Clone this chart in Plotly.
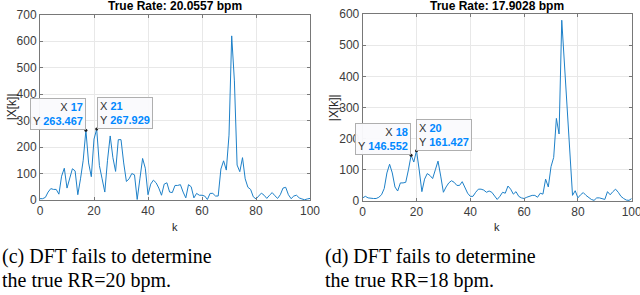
import plotly.graph_objects as go

k = list(range(101))

mag_c = [5, 5, 10, 30, 43, 40, 40, 22, 90, 120,
         45, 80, 118, 110, 20, 80, 150, 263.467, 140, 88,
         230, 267.929, 130, 80, 30, 150, 242, 160, 108, 228,
         228, 140, 70, 80, 100, 95, 2, 80, 157, 120,
         20, 60, 75, 65, 45, 18, 60, 65, 30, 28,
         55, 55, 58, 30, 8, 58, 50, 8, 25, 18,
         18, 15, 2, 25, 25, 15, 15, 117, 148, 113,
         245, 620, 450, 132, 107, 160, 80, 48, 40, 12,
         4, 15, 26, 18, 6, 18, 28, 16, 6, 20,
         45, 48, 20, 5, 15, 18, 8, 4, 1, 4, 6]

mag_d = [10, 15, 10, 8, 8, 8, 12, 20, 40, 90,
         118, 90, 45, 32, 58, 58, 60, 100, 146.552, 125,
         161.427, 100, 30, 70, 88, 82, 72, 100, 128, 80,
         28, 45, 58, 65, 60, 50, 50, 62, 45, 25,
         15, 15, 28, 38, 38, 35, 28, 32, 28, 15,
         5, 15, 28, 25, 48, 38, 22, 30, 15, 10,
         8, 12, 15, 18, 18, 12, 25, 22, 70, 45,
         110, 140, 265, 215, 580, 430, 300, 154, 18, 33,
         10, 20, 27, 18, 10, 5, 2, 10, 10, 8,
         5, 30, 20, 30, 38, 28, 15, 8, 3, 2, 8]

titles = ["True Rate: 20.0557 bpm", "True Rate: 17.9028 bpm"]
tips_c = [(17, 263.467, "right"), (21, 267.929, "left")]
tips_d = [(18, 146.552, "right"), (20, 161.427, "left")]
yticks_c = [0, 100, 200, 300, 400, 500, 600, 700]
yticks_d = [0, 100, 200, 300, 400, 500, 600]
xticks = [0, 20, 40, 60, 80, 100]
captions_c = ["(c) DFT fails to determine", "the true RR=20 bpm."]
captions_d = ["(d) DFT fails to determine", "the true RR=18 bpm."]

W, H = 640, 295
LINE = "rgb(30,128,200)"
AX = "rgb(38,38,38)"
FONT = "Liberation Sans"

fig = go.Figure()
fig.add_trace(go.Scatter(x=k, y=mag_c, mode="lines", line=dict(color=LINE, width=1),
                         xaxis="x", yaxis="y", showlegend=False, hoverinfo="skip"))
fig.add_trace(go.Scatter(x=k, y=mag_d, mode="lines", line=dict(color=LINE, width=1),
                         xaxis="x2", yaxis="y2", showlegend=False, hoverinfo="skip"))

for tips, xa, ya in [(tips_c, "x", "y"), (tips_d, "x2", "y2")]:
    fig.add_trace(go.Scatter(x=[t[0] for t in tips], y=[t[1] for t in tips], mode="markers",
                             marker=dict(color="rgb(30,30,30)", size=3),
                             xaxis=xa, yaxis=ya, showlegend=False, hoverinfo="skip"))

def axstyle(domain, rng, ticks, anchor):
    return dict(domain=domain, range=rng, tickvals=ticks, anchor=anchor, automargin=False,
                ticklabeloverflow="allow",
                showline=True, linecolor="rgb(120,120,120)", linewidth=1, mirror="ticks",
                ticks="inside", ticklen=3, tickcolor="rgb(120,120,120)",
                showgrid=True, gridcolor="rgb(232,232,232)", gridwidth=1,
                zeroline=False, tickfont=dict(family=FONT, size=12, color="rgb(60,60,60)"))

pl = [(40, 310, 14.7, 200), (362.7, 631.7, 14, 201)]
fig.update_layout(
    template="none",
    width=W, height=H, margin=dict(l=0, r=0, t=0, b=0, autoexpand=False),
    paper_bgcolor="white", plot_bgcolor="white",
    xaxis=axstyle([pl[0][0] / W, pl[0][1] / W], [0, 100], xticks, "y"),
    yaxis=axstyle([1 - pl[0][3] / H, 1 - pl[0][2] / H], [0, 700], yticks_c, "x"),
    xaxis2=axstyle([pl[1][0] / W, pl[1][1] / W], [0, 100], xticks, "y2"),
    yaxis2=axstyle([1 - pl[1][3] / H, 1 - pl[1][2] / H], [0, 600], yticks_d, "x2"),
)

anns = []
for t, (x0, x1, y0, y1) in zip(titles, pl):
    cx = (x0 + x1) / 2 / W
    anns.append(dict(text="<b>%s</b>" % t, xref="paper", yref="paper",
                     x=cx, y=1 - 6 / H, xanchor="center", yanchor="middle",
                     showarrow=False, font=dict(family=FONT, size=12, color="black")))
    anns.append(dict(text="k", xref="paper", yref="paper", x=cx, y=1 - 227 / H,
                     xanchor="center", yanchor="middle", showarrow=False,
                     font=dict(family=FONT, size=11, color=AX)))
    anns.append(dict(text="|X[k]|", xref="paper", yref="paper", x=(x0 - 28) / W,
                     y=1 - (y0 + y1) / 2 / H, xanchor="center", yanchor="middle",
                     textangle=-90, showarrow=False,
                     font=dict(family=FONT, size=12, color=AX)))

BLUE = "rgb(0,136,255)"
for tips, xa, ya in [(tips_c, "x", "y"), (tips_d, "x2", "y2")]:
    for kx, val, side in tips:
        txt = ("X <span style='color:%s'><b>%d</b></span><br>Y <span style='color:%s'><b>%.3f</b></span>"
               % (BLUE, kx, BLUE, val))
        anns.append(dict(text=txt, x=kx, y=val, xref=xa, yref=ya,
                         xanchor=side, yanchor="bottom", align=side, showarrow=False,
                         bgcolor="rgba(250,250,253,0.96)", bordercolor="rgb(175,175,175)",
                         borderwidth=1, borderpad=2,
                         font=dict(family=FONT, size=11, color="rgb(50,50,50)")))

for caps, x0 in [(captions_c, 0), (captions_d, 323)]:
    for i, c in enumerate(caps):
        anns.append(dict(text=c, xref="paper", yref="paper", x=x0 / W, y=1 - (256 + 24 * i) / H,
                         xanchor="left", yanchor="middle", showarrow=False,
                         font=dict(family="Liberation Serif", size=20, color="black")))
fig.update_layout(annotations=anns)

fig.write_html("out.html", config={"displayModeBar": False},
               post_script="document.body.style.margin='0';document.body.style.padding='0';"
                           "document.documentElement.style.overflow='hidden';")
